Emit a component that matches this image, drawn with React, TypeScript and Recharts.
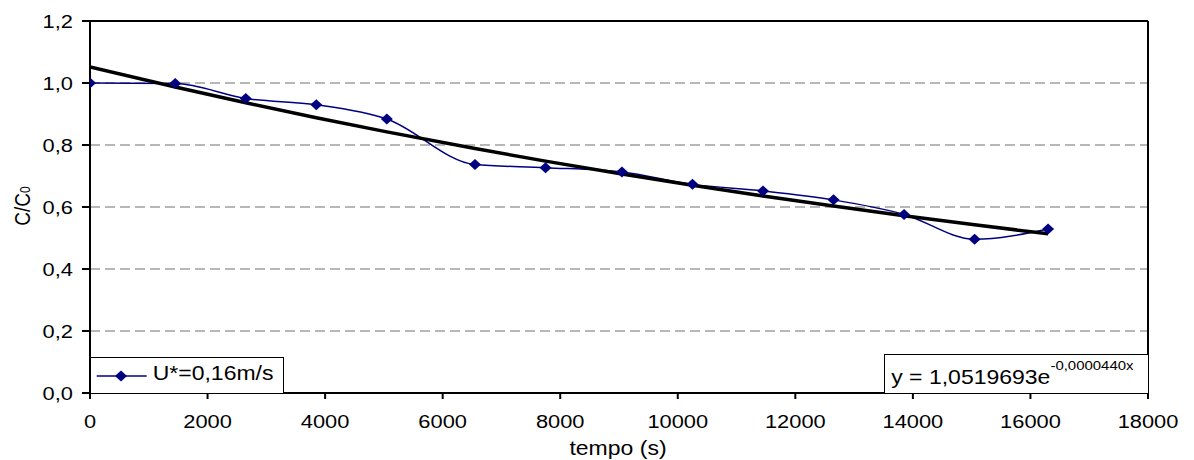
import {
  LineChart,
  Line,
  XAxis,
  YAxis,
  CartesianGrid,
  ReferenceLine,
  Legend,
  Label,
} from 'recharts';

// measured concentration ratio over time
const TIME = [0, 1450, 2650, 3850, 5050, 6550, 7750, 9050, 10250, 11450, 12650, 13850, 15050, 16300];
const CONC = [1.0, 0.998, 0.95, 0.93, 0.884, 0.737, 0.727, 0.713, 0.673, 0.652, 0.623, 0.576, 0.496, 0.529];

// exponential fit y = A e^(k x)
const FIT_A = 1.0519693;
const FIT_K = -0.000044;

const X_TICKS = [0, 2000, 4000, 6000, 8000, 10000, 12000, 14000, 16000, 18000];
const Y_TICKS = [0, 0.2, 0.4, 0.6, 0.8, 1.0, 1.2];

const SERIES_NAME = 'U*=0,16m/s';
const NAVY = '#000080';
const FONT = '"Liberation Sans", Arial, sans-serif';
// glyphs are drawn a little wide
const SX = 1.15;

const measured = TIME.map((t, i) => ({ t, c: CONC[i] }));
const trend = TIME.map((t) => ({ t, fit: FIT_A * Math.exp(FIT_K * t) }));

const comma = (v: number, d = 1) => v.toFixed(d).replace('.', ',');

function Diamond(props: { cx?: number; cy?: number; index?: number }) {
  const { cx, cy } = props;
  if (cx == null || cy == null) return null;
  const rx = 6;
  const ry = 5.5;
  return (
    <path
      key={`d-${props.index}`}
      d={`M${cx},${cy - ry}L${cx + rx},${cy}L${cx},${cy + ry}L${cx - rx},${cy}Z`}
      fill={NAVY}
    />
  );
}

function XTick(props: { x?: number; y?: number; payload?: { value: number } }) {
  const { x = 0, y = 0, payload } = props;
  return (
    <g transform={`translate(${x},${y})`}>
      <text transform={`scale(${SX},1)`} textAnchor="middle" dy={13.6} fontSize={19} fontFamily={FONT} fill="#000">
        {payload?.value}
      </text>
    </g>
  );
}

function YTick(props: { x?: number; y?: number; payload?: { value: number } }) {
  const { x = 0, y = 0, payload } = props;
  return (
    <g transform={`translate(${x},${y})`}>
      <text transform={`scale(${SX},1)`} textAnchor="end" dy={6.7} fontSize={19} fontFamily={FONT} fill="#000">
        {comma(payload?.value ?? 0)}
      </text>
    </g>
  );
}

function XTitle() {
  return (
    <text
      transform={`translate(618,455) scale(${SX},1)`}
      textAnchor="middle"
      fontSize={20}
      fontFamily={FONT}
      fill="#000"
    >
      tempo (s)
    </text>
  );
}

function YTitle() {
  return (
    <text
      transform={`translate(30,206) scale(${SX},1) rotate(-90)`}
      textAnchor="middle"
      fontSize={19}
      fontFamily={FONT}
      fill="#000"
    >
      C/C<tspan fontSize={12}>0</tspan>
    </text>
  );
}

function LegendBox() {
  return (
    <svg width={194} height={37} style={{ display: 'block' }}>
      <rect x={0.5} y={0.5} width={193} height={36} fill="#fff" stroke="#000" strokeWidth={1} />
      <line x1={6.7} y1={19} x2={56.7} y2={19} stroke={NAVY} strokeWidth={1.5} />
      <Diamond cx={31} cy={19} />
      <text transform={`translate(62.7,23.3) scale(${SX},1)`} fontSize={20} fontFamily={FONT} fill="#000">
        {SERIES_NAME}
      </text>
    </svg>
  );
}

function FitBox() {
  return (
    <svg
      width={265}
      height={40}
      style={{ position: 'absolute', left: 883.5, top: 353.5, display: 'block' }}
    >
      <rect x={0.5} y={0.5} width={264} height={39} fill="#fff" stroke="#000" strokeWidth={1} />
      <text transform={`translate(7.2,29.5) scale(${SX},1)`} fontSize={20} fontFamily={FONT} fill="#000">
        y = {comma(FIT_A, 7)}e
        <tspan fontSize={13} dy={-13.7}>
          {comma(FIT_K, 7)}x
        </tspan>
      </text>
    </svg>
  );
}

export default function App() {
  return (
    <div style={{ position: 'absolute', left: 0, top: 0, width: 1194, height: 460, background: '#fff' }}>
      <LineChart
        width={1194}
        height={460}
        margin={{ top: 21, right: 46, bottom: 37, left: 0 }}
        style={{ fontFamily: FONT }}
      >
        <CartesianGrid
          horizontal
          vertical={false}
          stroke="#a0a0a0"
          strokeDasharray="10 5"
          strokeWidth={1.5}
        />
        <XAxis
          type="number"
          dataKey="t"
          domain={[0, 18000]}
          ticks={X_TICKS}
          allowDataOverflow
          height={30}
          tickSize={6}
          tickMargin={15}
          stroke="#000"
          strokeWidth={2}
          tick={<XTick />}
        >
          <Label content={<XTitle />} />
        </XAxis>
        <YAxis
          type="number"
          domain={[0, 1.2]}
          ticks={Y_TICKS}
          width={90}
          tickSize={8}
          tickMargin={9}
          stroke="#000"
          strokeWidth={2}
          tick={<YTick />}
        >
          <Label content={<YTitle />} />
        </YAxis>
        {/* top and right edges of the plot frame */}
        <ReferenceLine y={1.2} stroke="#000" strokeWidth={2} />
        <ReferenceLine x={18000} stroke="#000" strokeWidth={2} />
        <Legend
          layout="horizontal"
          verticalAlign="middle"
          align="center"
          content={<LegendBox />}
          wrapperStyle={{ left: 90, top: 356.5, width: 194, height: 37 }}
        />
        <Line
          data={measured}
          dataKey="c"
          type="monotone"
          stroke={NAVY}
          strokeWidth={1.5}
          dot={<Diamond />}
          activeDot={false}
          isAnimationActive={false}
          name={SERIES_NAME}
        />
        <Line
          data={trend}
          dataKey="fit"
          type="linear"
          stroke="#000"
          strokeWidth={3.5}
          dot={false}
          activeDot={false}
          legendType="none"
          isAnimationActive={false}
        />
      </LineChart>
      <FitBox />
    </div>
  );
}
